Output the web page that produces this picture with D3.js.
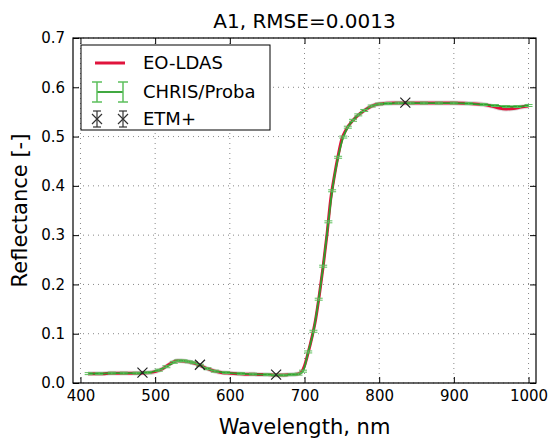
<!DOCTYPE html>
<html>
<head>
<meta charset="utf-8">
<script src="https://cdn.jsdelivr.net/npm/d3@7"></script>
<style>
  body { margin: 0; background: #fff; }
  text { font-family: "DejaVu Sans", sans-serif; fill: #000; }
</style>
</head>
<body>
<div id="chart"></div>
<script>
// EO-LDAS retrieved spectrum
const eoWavelength = [410, 420, 430, 440, 450, 460, 470, 480, 490, 500, 510, 520, 530, 540, 550, 560, 570, 580, 590, 600,
  610, 620, 630, 640, 650, 660, 670, 680, 690, 695, 700, 705, 710, 715, 720, 725, 730, 735, 740, 745,
  750, 755, 760, 770, 780, 790, 800, 820, 840, 860, 880, 900, 920, 940, 950, 960, 970, 980, 990, 1000];
const eoReflectance = [0.019, 0.019, 0.019, 0.020, 0.020, 0.020, 0.020, 0.020, 0.021, 0.023, 0.029, 0.039, 0.045, 0.044, 0.041, 0.036, 0.029, 0.024, 0.021, 0.020,
  0.019, 0.018, 0.018, 0.017, 0.017, 0.016, 0.016, 0.017, 0.018, 0.021, 0.035, 0.062, 0.093, 0.130, 0.180, 0.237, 0.300, 0.372, 0.420, 0.461,
  0.495, 0.512, 0.524, 0.541, 0.553, 0.562, 0.566, 0.568, 0.568, 0.568, 0.568, 0.568, 0.567, 0.565, 0.562, 0.558, 0.556, 0.557, 0.560, 0.562];
const eoUncertainty = 0.005;

// CHRIS/Proba observations
const chrisWavelength = [411, 425, 442, 458, 475, 490, 505, 515, 525, 531, 538, 545, 552, 560, 570, 580, 595, 615, 631, 650,
  661, 672, 683, 692, 698, 705, 712, 719, 725, 732, 737, 745, 752, 758, 765, 772, 780, 790, 800, 812,
  826, 842, 860, 880, 900, 920, 940, 955, 970, 985, 1000];
const chrisReflectance = [0.019, 0.019, 0.020, 0.020, 0.020, 0.021, 0.026, 0.033, 0.042, 0.045, 0.045, 0.043, 0.041, 0.036, 0.029, 0.024, 0.021, 0.019, 0.018, 0.017,
  0.016, 0.016, 0.017, 0.018, 0.024, 0.063, 0.105, 0.170, 0.237, 0.327, 0.390, 0.458, 0.499, 0.519, 0.533, 0.544, 0.553, 0.562, 0.566, 0.567,
  0.568, 0.568, 0.568, 0.568, 0.568, 0.567, 0.565, 0.563, 0.561, 0.561, 0.563];
const chrisError = 0.002;

// ETM+ observations
const etmWavelength = [483, 560, 662, 835];
const etmReflectance = [0.021, 0.037, 0.017, 0.569];
const etmError = 0.002;

const xTicks = [400, 500, 600, 700, 800, 900, 1000];
const yTicks = [0.0, 0.1, 0.2, 0.3, 0.4, 0.5, 0.6, 0.7];
const legendLabels = ["EO-LDAS", "CHRIS/Proba", "ETM+"];

const width = 550, height = 441;
const margin = {top: 38, right: 14, bottom: 58, left: 73};
const innerW = width - margin.left - margin.right;
const innerH = height - margin.top - margin.bottom;

const red = "#e0143c", green = "#2ca02c", lightGreen = "#5cbf5c";

const svg = d3.select("#chart").append("svg")
  .attr("width", width)
  .attr("height", height);

svg.append("rect").attr("width", width).attr("height", height).attr("fill", "#fff");

const x = d3.scaleLinear().domain([390, 1010]).range([0, innerW]);
const y = d3.scaleLinear().domain([0, 0.7]).range([innerH, 0]);

const g = svg.append("g").attr("transform", `translate(${margin.left},${margin.top})`);

svg.append("defs").append("clipPath").attr("id", "clip")
  .append("rect").attr("width", innerW).attr("height", innerH);

// dotted grid
const grid = g.append("g").attr("stroke", "#888").attr("stroke-width", 1).attr("stroke-dasharray", "1,4");
grid.selectAll("line.gx").data(xTicks).join("line")
  .attr("x1", d => x(d)).attr("x2", d => x(d)).attr("y1", 0).attr("y2", innerH);
grid.selectAll("line.gy").data(yTicks).join("line")
  .attr("y1", d => y(d)).attr("y2", d => y(d)).attr("x1", 0).attr("x2", innerW);

const plot = g.append("g").attr("clip-path", "url(#clip)");

const eo = eoWavelength.map((w, i) => ({w, r: eoReflectance[i]}));
const chris = chrisWavelength.map((w, i) => ({w, r: chrisReflectance[i]}));
const etm = etmWavelength.map((w, i) => ({w, r: etmReflectance[i]}));

// uncertainty band
plot.append("path").datum(eo)
  .attr("fill", "#dcdcdc")
  .attr("d", d3.area().curve(d3.curveMonotoneX)
    .x(d => x(d.w)).y0(d => y(d.r - eoUncertainty)).y1(d => y(d.r + eoUncertainty)));

plot.append("path").datum(eo)
  .attr("fill", "none").attr("stroke", red).attr("stroke-width", 3)
  .attr("d", d3.line().curve(d3.curveMonotoneX).x(d => x(d.w)).y(d => y(d.r)));

plot.append("path").datum(chris)
  .attr("fill", "none").attr("stroke", green).attr("stroke-width", 1.8)
  .attr("d", d3.line().curve(d3.curveMonotoneX).x(d => x(d.w)).y(d => y(d.r)));

// CHRIS error bars
const eb = plot.append("g").attr("stroke", lightGreen).attr("stroke-width", 1);
eb.selectAll("line.v").data(chris).join("line")
  .attr("x1", d => x(d.w)).attr("x2", d => x(d.w))
  .attr("y1", d => y(d.r - chrisError)).attr("y2", d => y(d.r + chrisError));
[-chrisError, chrisError].forEach(e => {
  eb.selectAll(null).data(chris).join("line")
    .attr("x1", d => x(d.w) - 4).attr("x2", d => x(d.w) + 4)
    .attr("y1", d => y(d.r + e)).attr("y2", d => y(d.r + e));
});

// ETM+ points
const et = plot.append("g").attr("stroke", "#222").attr("stroke-width", 1.2);
et.selectAll("line.v").data(etm).join("line")
  .attr("x1", d => x(d.w)).attr("x2", d => x(d.w))
  .attr("y1", d => y(d.r - etmError)).attr("y2", d => y(d.r + etmError));
et.selectAll("path").data(etm).join("path")
  .attr("fill", "none")
  .attr("d", d => {
    const cx = x(d.w), cy = y(d.r), s = 5;
    return `M${cx - s},${cy - s}L${cx + s},${cy + s}M${cx - s},${cy + s}L${cx + s},${cy - s}`;
  });

// axes with inward ticks
const fmt = d3.format(".1f");
g.append("g").attr("transform", `translate(0,${innerH})`)
  .call(d3.axisBottom(x).tickValues(xTicks).tickFormat(d3.format("d")).tickSizeInner(-6).tickSizeOuter(0).tickPadding(7))
  .call(a => a.selectAll("text").attr("font-size", 15).attr("font-family", "DejaVu Sans"));
g.append("g")
  .call(d3.axisLeft(y).tickValues(yTicks).tickFormat(fmt).tickSizeInner(-6).tickSizeOuter(0).tickPadding(8))
  .call(a => a.selectAll("text").attr("font-size", 15).attr("font-family", "DejaVu Sans"));
g.append("g")
  .call(d3.axisTop(x).tickValues(xTicks).tickSizeInner(-6).tickSizeOuter(0).tickFormat(""));
g.append("g").attr("transform", `translate(${innerW},0)`)
  .call(d3.axisRight(y).tickValues(yTicks).tickSizeInner(-6).tickSizeOuter(0).tickFormat(""));
g.selectAll(".domain").remove();
g.selectAll(".tick line").attr("stroke", "#000");

g.append("rect").attr("width", innerW).attr("height", innerH)
  .attr("fill", "none").attr("stroke", "#000").attr("stroke-width", 1.2);

// legend
const lg = g.append("g").attr("transform", "translate(8,7)");
lg.append("rect").attr("width", 189).attr("height", 85)
  .attr("fill", "#fff").attr("stroke", "#000").attr("stroke-width", 1);
const rowY = [18, 47, 74];
lg.append("line").attr("x1", 14).attr("x2", 44).attr("y1", rowY[0]).attr("y2", rowY[0])
  .attr("stroke", red).attr("stroke-width", 3);
lg.append("line").attr("x1", 16).attr("x2", 42).attr("y1", rowY[1]).attr("y2", rowY[1])
  .attr("stroke", green).attr("stroke-width", 1.8);
[16, 42].forEach(cx => {
  const b = lg.append("g").attr("stroke", lightGreen).attr("stroke-width", 1.5);
  b.append("line").attr("x1", cx).attr("x2", cx).attr("y1", rowY[1] - 10).attr("y2", rowY[1] + 10);
  b.append("line").attr("x1", cx - 5).attr("x2", cx + 5).attr("y1", rowY[1] - 10).attr("y2", rowY[1] - 10);
  b.append("line").attr("x1", cx - 5).attr("x2", cx + 5).attr("y1", rowY[1] + 10).attr("y2", rowY[1] + 10);
  const k = lg.append("g").attr("stroke", "#333").attr("stroke-width", 1.2);
  const cy = rowY[2];
  k.append("line").attr("x1", cx).attr("x2", cx).attr("y1", cy - 8).attr("y2", cy + 8);
  k.append("line").attr("x1", cx - 4).attr("x2", cx + 4).attr("y1", cy - 8).attr("y2", cy - 8);
  k.append("line").attr("x1", cx - 4).attr("x2", cx + 4).attr("y1", cy + 8).attr("y2", cy + 8);
  k.append("path").attr("fill", "none")
    .attr("d", `M${cx - 5},${cy - 5}L${cx + 5},${cy + 5}M${cx - 5},${cy + 5}L${cx + 5},${cy - 5}`);
});
lg.selectAll("text").data(legendLabels).join("text")
  .attr("x", 62).attr("y", (d, i) => rowY[i]).attr("dy", "0.35em")
  .attr("font-size", 18).text(d => d);

// title and axis labels
svg.append("text").attr("x", margin.left + innerW / 2).attr("y", 28)
  .attr("text-anchor", "middle").attr("font-size", 20).text("A1, RMSE=0.0013");
svg.append("text").attr("x", margin.left + innerW / 2).attr("y", 434)
  .attr("text-anchor", "middle").attr("font-size", 21).text("Wavelength, nm");
svg.append("text").attr("transform", `translate(27,${margin.top + innerH / 2}) rotate(-90)`)
  .attr("text-anchor", "middle").attr("font-size", 21).text("Reflectance [-]");
</script>
</body>
</html>
